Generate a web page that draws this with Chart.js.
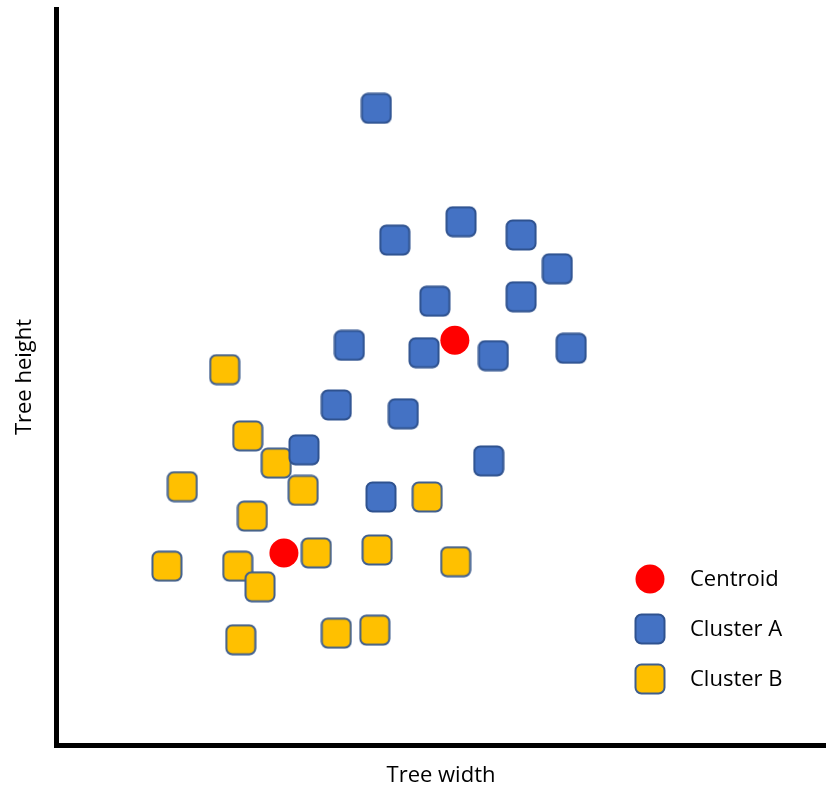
<!DOCTYPE html>
<html>
<head>
<meta charset="utf-8">
<script src="https://cdn.jsdelivr.net/npm/chart.js@4.4.0/dist/chart.umd.min.js"></script>
<style>
  html, body { margin: 0; padding: 0; background: #fff; }
  #wrap { width: 826px; height: 789px; }
</style>
</head>
<body>
<div id="wrap"><canvas id="chartClusters"></canvas></div>
<script>
// Datos (unidades arbitrarias 0-10)
const clusterAx = [4.16, 4.40, 5.26, 6.04, 6.51, 4.92, 6.04, 3.81, 4.78, 5.68, 6.69, 3.64, 4.51, 3.22, 5.62, 4.22];
const clusterAy = [8.65, 6.86, 7.11, 6.93, 6.47, 6.03, 6.09, 5.43, 5.33, 5.29, 5.39, 4.62, 4.50, 4.01, 3.86, 3.37];
const clusterBx = [2.19, 2.49, 2.86, 1.64, 3.21, 2.55, 4.82, 3.38, 4.17, 5.19, 1.44, 2.36, 2.65, 2.40, 3.64, 4.14];
const clusterBy = [5.10, 4.20, 3.83, 3.51, 3.46, 3.11, 3.37, 2.61, 2.65, 2.49, 2.43, 2.43, 2.15, 1.43, 1.52, 1.56];
const centroidX = [2.96, 5.18];
const centroidY = [2.61, 5.50];
const seriesNames = ['Centroid', 'Cluster A', 'Cluster B'];

const FONT = '"Open Sans", "Liberation Sans", sans-serif';

// Cuadrado redondeado como imagen para pointStyle
function cuadrado(fill, stroke) {
    const c = document.createElement('canvas');
    c.width = 32;
    c.height = 32;
    const g = c.getContext('2d');
    g.fillStyle = fill;
    g.strokeStyle = stroke;
    g.lineWidth = 2;
    g.beginPath();
    g.roundRect(1.5, 1.5, 29, 29, 6);
    g.fill();
    g.stroke();
    return c;
}

const imgA = cuadrado('#4472C4', '#2F528F');
const imgB = cuadrado('#FFC000', '#3F5E8E');

function puntos(xs, ys) {
    return xs.map((x, i) => ({ x: x, y: ys[i] }));
}

// Leyenda dibujada dentro del area del grafico
const leyendaPlugin = {
    id: 'leyendaInterna',
    afterDraw(chart) {
        const ctx = chart.ctx;
        const area = chart.chartArea;
        const x0 = area.right - 176;
        const y0 = area.bottom - 166;
        ctx.save();
        ctx.font = '22px ' + FONT;
        ctx.fillStyle = '#000';
        ctx.textBaseline = 'middle';
        ctx.textAlign = 'left';
        seriesNames.forEach((name, i) => {
            const y = y0 + i * 50;
            if (i === 0) {
                ctx.beginPath();
                ctx.fillStyle = '#FF0000';
                ctx.arc(x0, y, 14.5, 0, Math.PI * 2);
                ctx.fill();
            } else {
                const img = i === 1 ? imgA : imgB;
                ctx.drawImage(img, x0 - 16, y - 16);
            }
            ctx.fillStyle = '#000';
            ctx.fillText(name, x0 + 40, y + 1);
        });
        ctx.restore();
    }
};

const ctxClusters = document.getElementById('chartClusters');
new Chart(ctxClusters, {
    type: 'scatter',
    data: {
        datasets: [
            {
                label: seriesNames[0],
                data: puntos(centroidX, centroidY),
                pointStyle: 'circle',
                pointRadius: 14.5,
                backgroundColor: '#FF0000',
                borderWidth: 0
            },
            {
                label: seriesNames[1],
                data: puntos(clusterAx, clusterAy),
                pointStyle: imgA
            },
            {
                label: seriesNames[2],
                data: puntos(clusterBx, clusterBy),
                pointStyle: imgB
            }
        ]
    },
    options: {
        responsive: true,
        maintainAspectRatio: false,
        animation: false,
        events: [],
        layout: {
            autoPadding: false,
            padding: { top: 9, right: 0, left: 0, bottom: 0 }
        },
        plugins: {
            legend: { display: false },
            tooltip: { enabled: false }
        },
        scales: {
            x: {
                type: 'linear',
                min: 0,
                max: 10,
                grid: { display: false },
                ticks: { display: false },
                border: { display: true, color: '#000', width: 5 },
                title: {
                    display: true,
                    text: 'Tree width',
                    color: '#000',
                    font: { family: FONT, size: 22 },
                    padding: { top: 0, bottom: 0 }
                },
                afterFit: function(scale) { scale.height = 44; }
            },
            y: {
                type: 'linear',
                min: 0,
                max: 10,
                grid: { display: false },
                ticks: { display: false },
                border: { display: true, color: '#000', width: 5 },
                title: {
                    display: true,
                    text: 'Tree height',
                    color: '#000',
                    font: { family: FONT, size: 22 },
                    padding: { top: 12, bottom: 0 }
                },
                afterFit: function(scale) { scale.width = 56; }
            }
        }
    },
    plugins: [leyendaPlugin]
});
</script>
</body>
</html>
